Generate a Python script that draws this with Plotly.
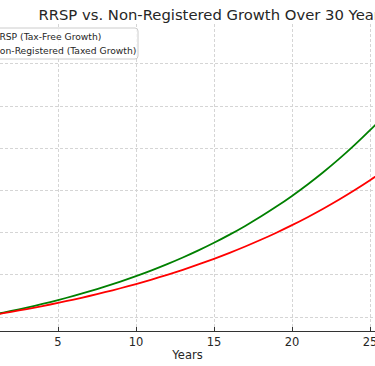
import plotly.graph_objects as go

# ---- data ----
years = list(range(0, 31))
rrsp = [10000, 10700, 11449, 12250, 13108, 14026, 15007, 16058, 17182, 18385,
        19672, 21049, 22522, 24098, 25785, 27590, 29522, 31588, 33799, 36165,
        38697, 41406, 44304, 47405, 50724, 54274, 58074, 62139, 66488, 71143,
        76123]
non_reg = [10000, 10595, 11225, 11893, 12601, 13351, 14145, 14987, 15878, 16823,
           17824, 18885, 20008, 21199, 22460, 23797, 25212, 26713, 28302, 29986,
           31770, 33660, 35663, 37785, 40033, 42415, 44939, 47613, 50446, 53448,
           56628]
x_ticks = [5, 10, 15, 20, 25]
y_ticks = [10000, 20000, 30000, 40000, 50000, 60000, 70000]
series_names = ["RRSP (Tax-Free Growth)", "Non-Registered (Taxed Growth)"]
title_text = "RRSP vs. Non-Registered Growth Over 30 Years"

W, H = 375, 366
ML, MR, MT, MB = 0, 0, 24, 35
PW, PH = W - ML - MR, H - MT - MB

def px_x(p):
    return (p - ML) / PW

def px_y(p):
    return 1 - (p - MT) / PH

TXT = "#262626"
FONT = "DejaVu Sans"

fig = go.Figure()
fig.add_trace(go.Scatter(x=years, y=rrsp, mode="lines", name=series_names[0],
                         line=dict(color="#008000", width=1.8, shape="spline", smoothing=0.8),
                         showlegend=False))
fig.add_trace(go.Scatter(x=years, y=non_reg, mode="lines", name=series_names[1],
                         line=dict(color="#ff0000", width=1.8, shape="spline", smoothing=0.8),
                         showlegend=False))

# legend box (drawn as shapes + text so its size matches)
x0, x1 = px_x(-20), px_x(138)
y0, y1 = px_y(28), px_y(59)
r = 3
fig.add_shape(type="path", xref="paper", yref="paper",
              path=(f"M {x0},{y0} L {px_x(138 - r)},{y0} Q {x1},{y0} {x1},{px_y(28 + r)} "
                    f"L {x1},{px_y(59 - r)} Q {x1},{y1} {px_x(138 - r)},{y1} L {x0},{y1} Z"),
              fillcolor="rgba(255,255,255,0.8)", line=dict(color="#cccccc", width=1), layer="above")
for i, (name, col) in enumerate(zip(series_names, ["#008000", "#ff0000"])):
    cy = 36 + 14 * i
    fig.add_shape(type="line", xref="paper", yref="paper",
                  x0=px_x(-34), x1=px_x(-14), y0=px_y(cy), y1=px_y(cy),
                  line=dict(color=col, width=1.8), layer="above")
    fig.add_annotation(text=name, xref="paper", yref="paper", x=px_x(-8), y=px_y(cy),
                       xanchor="left", yanchor="middle", showarrow=False, borderpad=0,
                       font=dict(family=FONT, size=9.2, color=TXT))

fig.update_layout(
    width=W, height=H,
    margin=dict(l=ML, r=MR, t=MT, b=MB, autoexpand=False),
    paper_bgcolor="white", plot_bgcolor="white",
    font=dict(family=FONT, color=TXT),
    title=dict(text=title_text, x=213 / W, xref="paper", xanchor="center",
               y=1 - 15 / H, yref="container", yanchor="middle",
               font=dict(family=FONT, size=14.8, color=TXT)),
    showlegend=False,
)
fig.update_xaxes(range=[1.28, 25.32], tickvals=x_ticks, ticks="inside", ticklen=4,
                 tickcolor="#333333", showline=True, linecolor="#333333", linewidth=1,
                 showgrid=True, gridcolor="#d5d5d5", gridwidth=0.8, griddash="3px,2px",
                 zeroline=False, tickfont=dict(size=11.5, color=TXT), ticklabeloverflow="allow",
                 title=dict(text="Years", font=dict(size=11.5, color=TXT), standoff=3))
fig.update_yaxes(range=[6694, 79429], tickvals=y_ticks, showticklabels=False, ticks="",
                 showline=False, showgrid=True, gridcolor="#d5d5d5", gridwidth=0.8,
                 griddash="3px,2px", zeroline=False)

fig.write_html("out.html", config={"displayModeBar": False},
               post_script="document.body.style.margin='0';document.body.style.overflow='hidden';")
